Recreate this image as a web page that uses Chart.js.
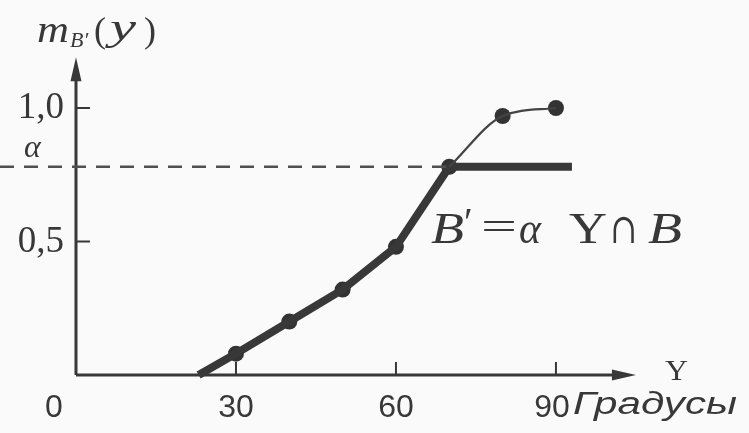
<!DOCTYPE html>
<html>
<head>
<meta charset="utf-8">
<script src="https://cdn.jsdelivr.net/npm/chart.js@4.4.1/dist/chart.umd.min.js"></script>
<style>
  html, body { margin: 0; padding: 0; background: #fafafa; }
  #wrap { width: 749px; height: 433px; position: relative; }
</style>
</head>
<body>
<div id="wrap"><canvas id="chart"></canvas></div>
<script>
// values
const degrees = [30, 40, 50, 60, 70, 80, 90];
const membership = [0.08, 0.2, 0.32, 0.48, 0.78, 0.97, 1.0];
const alpha = 0.78;
const startDeg = 23;   // where the thick line leaves the axis
const cutEnd = 93;     // right end of the thick alpha-cut line
const xTicks = [0, 30, 60, 90];
const xTickLabels = ["0", "30", "60", "90"];
const yTicks = [0.5, 1.0];
const yTickLabels = ["0,5", "1,0"];

const ink = "#383838";

// thick line = min(m, alpha), thin line = the part of m above alpha
const thick = [{ x: startDeg, y: 0 }];
degrees.forEach((d, i) => {
    if (membership[i] <= alpha) thick.push({ x: d, y: membership[i] });
});
thick.push({ x: cutEnd, y: alpha });
const thin = [];
degrees.forEach((d, i) => {
    if (membership[i] >= alpha) thin.push({ x: d, y: membership[i] });
});
const marks = degrees.map((d, i) => ({ x: d, y: membership[i] }));

// draw text squeezed/stretched to a given width (and optional height factor)
function fitText(ctx, txt, x, y, w, sy) {
    const m = ctx.measureText(txt).width;
    ctx.save();
    ctx.translate(x, y);
    ctx.scale(w / m, sy || 1);
    ctx.fillText(txt, 0, 0);
    ctx.restore();
}

const drawing = {
    id: "drawing",
    beforeDraw(chart) {
        const ctx = chart.ctx;
        ctx.save();
        ctx.fillStyle = "#fafafa";
        ctx.fillRect(0, 0, chart.width, chart.height);
        ctx.restore();
    },
    beforeDatasetsDraw(chart) {
        const ctx = chart.ctx;
        const xs = chart.scales.x, ys = chart.scales.y;
        const x0 = xs.getPixelForValue(0), y0 = ys.getPixelForValue(0);
        const xEnd = xs.getPixelForValue(105), yTop = ys.getPixelForValue(1.19);
        ctx.save();
        ctx.strokeStyle = ink;
        ctx.fillStyle = ink;
        ctx.lineWidth = 3;
        ctx.beginPath();
        ctx.moveTo(x0, y0); ctx.lineTo(xEnd - 10, y0);
        ctx.moveTo(x0, y0); ctx.lineTo(x0, yTop + 10);
        ctx.stroke();
        // arrow heads
        ctx.beginPath();
        ctx.moveTo(xEnd, y0); ctx.lineTo(xEnd - 24, y0 - 5.5); ctx.lineTo(xEnd - 24, y0 + 5.5); ctx.closePath();
        ctx.moveTo(x0, yTop); ctx.lineTo(x0 - 5.5, yTop + 24); ctx.lineTo(x0 + 5.5, yTop + 24); ctx.closePath();
        ctx.fill();
        // tick marks
        ctx.lineWidth = 2;
        ctx.beginPath();
        xTicks.forEach(t => {
            if (t === 0) return;
            const px = xs.getPixelForValue(t);
            ctx.moveTo(px, y0); ctx.lineTo(px, y0 - 13);
        });
        yTicks.forEach(t => {
            const py = ys.getPixelForValue(t);
            ctx.moveTo(x0, py); ctx.lineTo(x0 + 14, py);
        });
        ctx.stroke();
        // tick labels
        ctx.font = "32px 'Liberation Sans'";
        ctx.textAlign = "center";
        ctx.textBaseline = "alphabetic";
        xTicks.forEach((t, i) => {
            let px = xs.getPixelForValue(t);
            if (t === 0) px -= 22;
            if (t === 90) px -= 4;
            ctx.fillText(xTickLabels[i], px, y0 + 42);
        });
        ctx.font = "37px 'Liberation Serif'";
        ctx.textAlign = "right";
        yTicks.forEach((t, i) => {
            ctx.fillText(yTickLabels[i], x0 - 12, ys.getPixelForValue(t) + 10);
        });
        ctx.restore();
    },
    afterDatasetsDraw(chart) {
        const ctx = chart.ctx;
        const ys = chart.scales.y;
        ctx.save();
        ctx.fillStyle = ink;
        ctx.textBaseline = "alphabetic";
        ctx.textAlign = "left";
        // alpha label
        ctx.font = "italic 32px 'Liberation Serif'";
        ctx.fillText("α", 24, ys.getPixelForValue(alpha) - 10);
        // y axis title m_B'(y)
        ctx.font = "italic 38px 'Liberation Serif'";
        fitText(ctx, "m", 37, 42, 32);
        ctx.font = "italic 22px 'Liberation Serif'";
        ctx.fillText("B′", 70, 47);
        ctx.font = "36px 'Liberation Serif'";
        ctx.fillText("(", 94, 42);
        ctx.font = "italic 38px 'Liberation Serif'";
        fitText(ctx, "y", 110, 40, 26);
        ctx.font = "36px 'Liberation Serif'";
        ctx.fillText(")", 144, 42);
        // x axis names
        ctx.font = "30px 'Liberation Serif'";
        fitText(ctx, "Y", 665, 380, 23);
        ctx.font = "italic 31px 'Liberation Sans'";
        fitText(ctx, "Градусы", 573, 414, 164);
        // formula
        const base = 243;
        ctx.font = "italic 45px 'Liberation Serif'";
        fitText(ctx, "B", 431, base, 33);
        ctx.font = "40px 'Liberation Serif'";
        ctx.fillText("′", 464, base - 8);
        fitText(ctx, "=", 481, base - 3, 36);
        ctx.font = "italic 45px 'Liberation Serif'";
        fitText(ctx, "α", 519, base, 22);
        ctx.font = "45px 'Liberation Serif'";
        fitText(ctx, "Y", 569, base, 38);
        ctx.font = "42px 'DejaVu Serif'";
        fitText(ctx, "∩", 610, base, 27);
        ctx.font = "italic 45px 'Liberation Serif'";
        fitText(ctx, "B", 648, base, 34);
        ctx.restore();
    }
};

new Chart(document.getElementById("chart"), {
    type: "scatter",
    data: {
        datasets: [
            {
                label: "alpha",
                data: [{ x: -14.25, y: alpha }, { x: 70, y: alpha }],
                showLine: true,
                borderColor: "#505050",
                borderWidth: 2.5,
                borderDash: [14, 10],
                pointRadius: 0
            },
            {
                label: "m",
                data: thin,
                showLine: true,
                borderColor: "#444",
                borderWidth: 2.2,
                cubicInterpolationMode: "monotone",
                pointRadius: 0
            },
            {
                label: "cut",
                data: thick,
                showLine: true,
                borderColor: ink,
                borderWidth: 8,
                pointRadius: 0
            },
            {
                label: "points",
                data: marks,
                showLine: false,
                pointRadius: 8,
                pointBackgroundColor: "#333",
                pointBorderWidth: 0
            }
        ]
    },
    options: {
        responsive: true,
        maintainAspectRatio: false,
        animation: false,
        layout: { padding: 0, autoPadding: false },
        plugins: { legend: { display: false }, tooltip: { enabled: false } },
        scales: {
            x: { type: "linear", min: -14.25, max: 126.2, display: false },
            y: { type: "linear", min: -0.2172, max: 1.4045, display: false }
        }
    },
    plugins: [drawing]
});
</script>
</body>
</html>
